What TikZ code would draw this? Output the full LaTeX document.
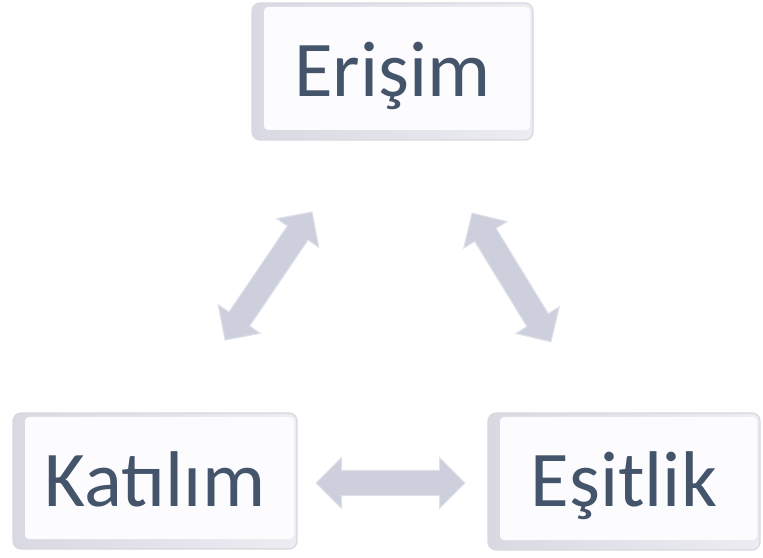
\documentclass[tikz,border=0pt]{standalone}
\usepackage{fontspec}
\setmainfont{Carlito}
\usetikzlibrary{shapes.arrows}
\definecolor{txt}{HTML}{44546A}
\definecolor{boxouterL}{HTML}{D9D9E3}
\definecolor{boxouterR}{HTML}{ECECF2}
\definecolor{boxinner}{HTML}{FCFCFE}
\definecolor{boxline}{HTML}{D8D8DF}
\definecolor{arr}{HTML}{CDD0DC}
\definecolor{arrline}{HTML}{E0E2EA}
\tikzset{
  bevelbox/.style={draw=boxline, line width=1.2pt, left color=boxouterL, right color=boxouterR,
    rounded corners=8pt,
    text=txt, font=\fontsize{79}{90}\selectfont, text height=50pt, text depth=0pt,
    inner sep=0pt, align=center,
    path picture={\fill[boxinner, rounded corners=4pt]
      ([xshift=12pt,yshift=10pt]path picture bounding box.south west) rectangle
      ([xshift=-3pt,yshift=-4pt]path picture bounding box.north east);}},
  dblarrow/.style={double arrow, fill=arr, draw=arrline, line width=1pt,
    inner xsep=0pt, inner ysep=12pt, double arrow head extend=13pt}
}
\begin{document}
\begin{tikzpicture}[x=1pt,y=1pt]
\useasboundingbox (0,0) rectangle (763,557);
\node[bevelbox, minimum width=281pt, minimum height=137pt] (er) at (392.5,485.5) {Erişim};
\node[bevelbox, minimum width=284pt, minimum height=136pt] (ka) at (155,76) {Katılım};
\node[bevelbox, minimum width=272pt, minimum height=137pt] (es) at (624,75.5) {Eşitlik};
\node[dblarrow, minimum height=149pt] (a1) at (390.5,74) {};
\node[dblarrow, minimum height=155pt, rotate=55.8] (a2) at (268.5,281) {};
\node[dblarrow, minimum height=151pt, rotate=-58.5] (a3) at (511.5,279.5) {};
\end{tikzpicture}
\end{document}
